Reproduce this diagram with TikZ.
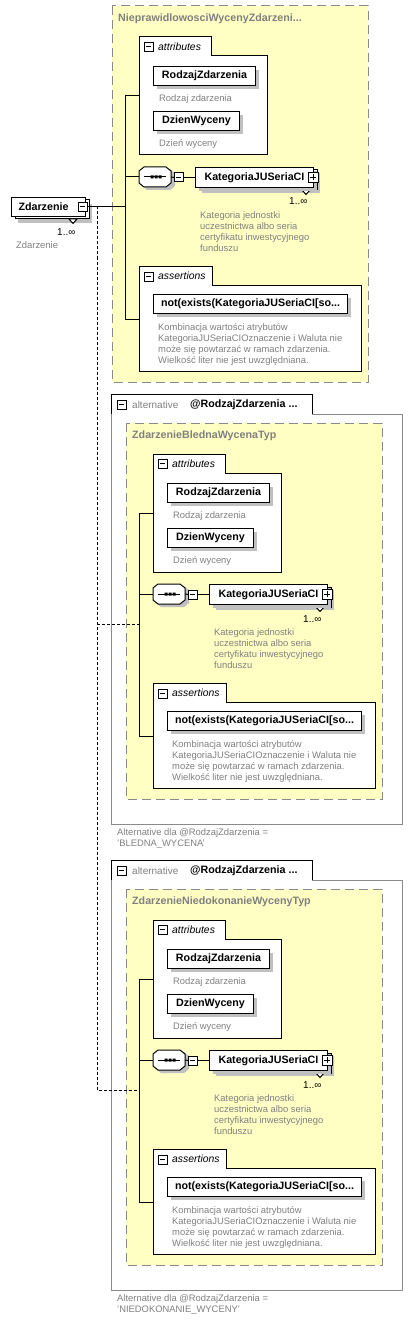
\documentclass[tikz,border=0pt]{standalone}
\usepackage{fontspec}
\setmainfont{Liberation Sans}
\definecolor{yel}{HTML}{FFFFC4}
\definecolor{txtgray}{HTML}{808080}
\definecolor{shc}{HTML}{C0C0C0}
\definecolor{brd}{HTML}{8A8A8A}
\tikzset{
  elem/.style={draw=black, fill=white, line width=1pt, inner sep=0pt, anchor=north west,
    font=\fontsize{10.7}{12}\bfseries\selectfont},
  desc/.style={text=txtgray, font=\fontsize{9.4}{11}\selectfont, anchor=base west, inner sep=0pt},
  occ/.style={text=black, font=\fontsize{10}{11}\selectfont, anchor=base west, inner sep=0pt},
  grp/.style={text=black, font=\fontsize{10.4}{12}\itshape\selectfont, anchor=west, inner sep=0pt},
  ttl/.style={text=txtgray, font=\fontsize{10.7}{12}\bfseries\selectfont, anchor=west, inner sep=0pt},
  yellowbox/.style={fill=yel, draw=brd, line width=1pt, dash pattern=on 9pt off 5pt},
  container/.style={draw=black, fill=white, line width=1pt},
  conn/.style={draw=black, line width=1pt},
  dconn/.style={draw=black, line width=1pt, dash pattern=on 3pt off 2pt},
  smallbox/.style={draw=black, fill=white, line width=0.9pt, minimum size=9pt, inner sep=0pt, anchor=north west},
}
\newcommand\ebox[6]{%
  \fill[shc] (#2+4,#3+4) rectangle (#2+#4+4,#3+#5+4);
  \node[elem, minimum width=#4pt, minimum height=#5pt] (#1) at (#2,#3) {#6};}
\newcommand\minusbox[3]{%
  \node[smallbox] (#1) at (#2,#3) {};
  \draw[line width=0.9pt] (#2+2,#3+4.5) -- (#2+7,#3+4.5);}
\newcommand\plusbox[3]{%
  \node[smallbox, minimum size=10pt] (#1) at (#2,#3) {};
  \draw[line width=0.9pt] (#2+2,#3+5) -- (#2+8,#3+5) (#2+5,#3+2) -- (#2+5,#3+8);}
\newcommand\typebody[2]{%
  \draw[yellowbox] (0,0) rectangle (256,376);
  \node[ttl] (#1-title) at (6,13) {#2};
  % attributes group
  \draw[container] (27,31) -- (99,31) -- (99,50) -- (155,50) -- (155,149) -- (27,149) -- cycle;
  \coordinate (#1-attr) at (27,90);
  \minusbox{#1-am}{32}{36}
  \node[grp] (#1-at) at (46,41) {attributes};
  \ebox{#1-rz}{41}{60}{102}{19}{RodzajZdarzenia}
  \node[desc] (#1-rzd) at (47,95.5) {Rodzaj zdarzenia};
  \ebox{#1-dw}{41}{105}{86}{19}{DzienWyceny}
  \node[desc] (#1-dwd) at (47,140.5) {Dzień wyceny};
  % sequence
  \fill[shc] (30,167) -- (35,163) -- (58,163) -- (63,167) -- (63,180) -- (58,184) -- (35,184) -- (30,180) -- cycle;
  \draw[container] (27,165) -- (32,161) -- (54,161) -- (59,165) -- (59,177) -- (54,181) -- (32,181) -- (27,177) -- cycle;
  \coordinate (#1-seqw) at (27,171);
  \coordinate (#1-seqe) at (59,171);
  \draw[line width=1pt] (32,171) -- (54,171);
  \fill (38.5,169.5) rectangle (41.5,172.5) (42.5,169.5) rectangle (45.5,172.5) (46.5,169.5) rectangle (49.5,172.5);
  \minusbox{#1-sm}{62}{166.5}
  % KategoriaJUSeriaCI (stacked)
  \fill[shc] (90,167) rectangle (208,187);
  \draw[container] (87,164) rectangle (205,184);
  \draw[container] (190,184) -- (198,184) -- (194,188.5) -- cycle;
  \ebox{#1-kat}{83}{161}{118}{20}{KategoriaJUSeriaCI}
  \plusbox{#1-kp}{196}{166}
  \node[occ] (#1-ko) at (177,199) {1..∞};
  \node[desc] (#1-kd1) at (88,212.5) {Kategoria jednostki};
  \node[desc] (#1-kd2) at (88,223.5) {uczestnictwa albo seria};
  \node[desc] (#1-kd3) at (88,234.5) {certyfikatu inwestycyjnego};
  \node[desc] (#1-kd4) at (88,245.5) {funduszu};
  % assertions group
  \draw[container] (27,260) -- (100,260) -- (100,279) -- (249,279) -- (249,365) -- (27,365) -- cycle;
  \coordinate (#1-asr) at (27,313);
  \minusbox{#1-asm}{32}{265.5}
  \node[grp] (#1-ast) at (46,270) {assertions};
  \ebox{#1-ne}{41}{288}{194}{19}{not(exists(KategoriaJUSeriaCI[so...}
  \node[desc] (#1-n1) at (46,324.5) {Kombinacja wartości atrybutów};
  \node[desc] (#1-n2) at (46,335.5) {KategoriaJUSeriaCIOznaczenie i Waluta nie};
  \node[desc] (#1-n3) at (46,346.5) {może się powtarzać w ramach zdarzenia.};
  \node[desc] (#1-n4) at (46,357.5) {Wielkość liter nie jest uwzględniana.};
  % vertical connector
  \coordinate (#1-vt) at (13,90);
  \coordinate (#1-vb) at (13,313);
  \coordinate (#1-dash) at (13,201);
  \draw[conn] (#1-attr) -- (#1-vt) -- (#1-vb) -- (#1-asr);
  \draw[conn] (#1-seqw) -- (#1-seqw -| #1-vt);
  \draw[conn] (#1-sm.east) -- (#1-sm.east -| #1-kat.west);
  \draw[conn] (#1-seqe) -- (#1-sm.west);
}
\newcommand\altframe[3]{%
  \draw[brd, line width=1pt] (186,-9) -- (276,-9) -- (276,401) -- (-15,401) -- (-15,-9);
  \fill[white] (-15,-29) rectangle (186,-9);
  \draw[black, line width=1pt] (-15,-9) -- (-15,-29) -- (186,-29) -- (186,-9);
  \minusbox{#1-altm}{-9}{-23}
  \node[anchor=west, inner sep=0pt, text=txtgray, font=\fontsize{10}{12}\selectfont] (#1-alt) at (6,-18.5) {alternative};
  \node[anchor=west, inner sep=0pt, font=\fontsize{10.7}{12}\bfseries\selectfont] (#1-altc) at (64,-18.5) {@RodzajZdarzenia ...};
  \node[desc] (#1-cap1) at (-9,412.5) {Alternative dla @RodzajZdarzenia =};
  \node[desc] (#1-cap2) at (-9,423.5) {#3};
  \typebody{#1}{#2}
}
\begin{document}
\begin{tikzpicture}[x=1pt,y=-1pt]
\useasboundingbox (0,0) rectangle (413,1332);
\fill[white] (0,0) rectangle (413,1332);
% root type
\begin{scope}[shift={(112,6)}]
  \typebody{t0}{NieprawidlowosciWycenyZdarzeni...}
\end{scope}
\begin{scope}[shift={(126,423)}]
  \altframe{t1}{ZdarzenieBlednaWycenaTyp}{'BLEDNA\_WYCENA'}
\end{scope}
\begin{scope}[shift={(126,889)}]
  \altframe{t2}{ZdarzenieNiedokonanieWycenyTyp}{'NIEDOKONANIE\_WYCENY'}
\end{scope}
% Zdarzenie element
\fill[shc] (18,204) rectangle (92,223);
\draw[container] (15,200) rectangle (89,219);
\draw[container] (69,219) -- (77,219) -- (73,223.5) -- cycle;
\node[elem, minimum width=74pt, minimum height=19pt,
  label={[font=\fontsize{10.7}{12}\bfseries\selectfont, xshift=-5pt]center:Zdarzenie}] (zd) at (11,197) {};
\minusbox{zm}{78}{202}
\node[occ] (zo) at (57,235.5) {1..∞};
\node[desc] (zdesc) at (16,248.5) {Zdarzenie};
\draw[conn] (zm.east) -- (zm.east -| t0-vt);
\coordinate (dtop) at (97,206.5);
\draw[dconn] (dtop) -- (dtop |- t2-dash) -- (t2-dash);
\draw[dconn] (dtop |- t1-dash) -- (t1-dash);
\end{tikzpicture}
\end{document}
